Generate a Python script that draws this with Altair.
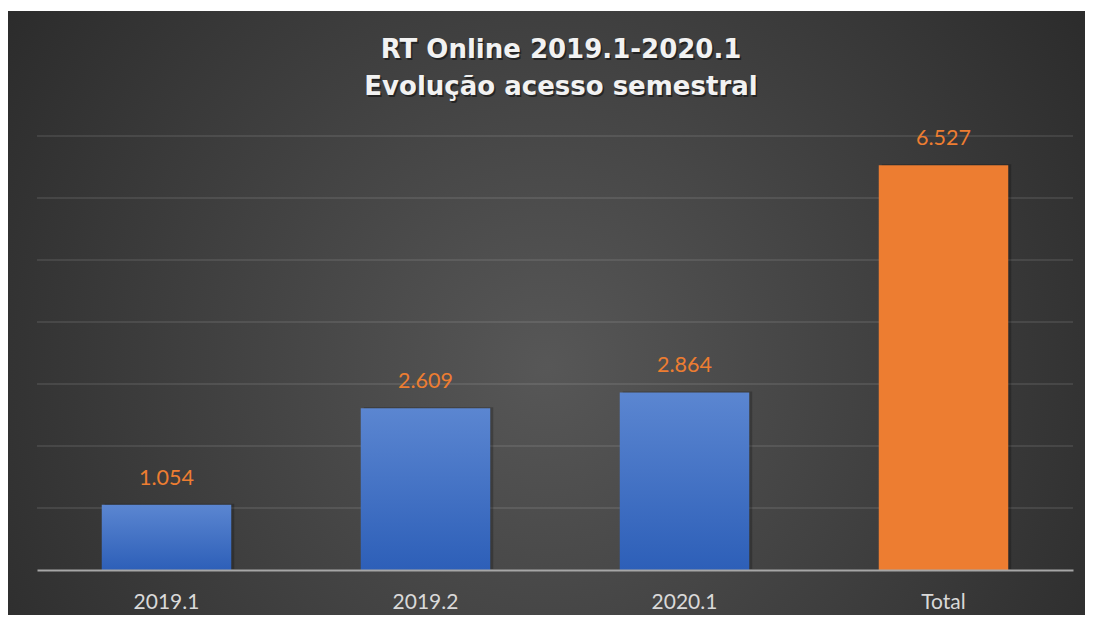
import altair as alt
import pandas as pd

categories = ["2019.1", "2019.2", "2020.1", "Total"]
values = [1054, 2609, 2864, 6527]
grid_values = [1000, 2000, 3000, 4000, 5000, 6000, 7000]
title_lines = ["RT Online 2019.1-2020.1", "Evolução acesso semestral"]

df = pd.DataFrame({"cat": categories, "val": values})
df["label"] = [f"{v:,}".replace(",", ".") for v in values]
grid_df = pd.DataFrame({"g": grid_values})
one = pd.DataFrame({"a": [0]})

W, H = 1036, 434
PAD = {"left": 29, "top": 128, "right": 12, "bottom": 45}

bg_gradient = {
    "gradient": "radial",
    "x1": 0.5, "y1": 0.55, "x2": 0.5, "y2": 0.55,
    "r1": 0, "r2": 0.72,
    "stops": [
        {"offset": 0, "color": "#575757"},
        {"offset": 1, "color": "#232323"},
    ],
}
blue_gradient = {
    "gradient": "linear",
    "x1": 0, "y1": 0, "x2": 0, "y2": 1,
    "stops": [
        {"offset": 0, "color": "#5B86D1"},
        {"offset": 1, "color": "#2D5FB8"},
    ],
}

yscale = alt.Scale(domain=[0, 7000], nice=False, zero=True)
xenc = alt.X(
    "cat:N",
    sort=categories,
    scale=alt.Scale(paddingInner=0.5, paddingOuter=0.25),
    axis=alt.Axis(
        title=None, labelAngle=0, ticks=False, domainColor="#A6A6A6",
        domainWidth=2, labelColor="#D9D9D9", labelFont="Lato",
        labelFontSize=21, labelPadding=21, zindex=1,
    ),
)
yenc = alt.Y("val:Q", scale=yscale, axis=None)

background = alt.Chart(one).mark_rect(fill=bg_gradient).encode(
    x=alt.value(-29), x2=alt.value(W + 12),
    y=alt.value(-125), y2=alt.value(H + 45),
)

grid = alt.Chart(grid_df).mark_rule(color="#ffffff", opacity=0.09, strokeWidth=2).encode(
    y=alt.Y("g:Q", scale=yscale, axis=None),
    x=alt.value(0), x2=alt.value(W),
)

base = alt.Chart(df)
shadow = base.mark_bar(color="#000000", opacity=0.22, xOffset=3, yOffset=-1).encode(x=xenc, y=yenc)
bars_blue = base.transform_filter(alt.datum.cat != "Total").mark_bar(fill=blue_gradient).encode(x=xenc, y=yenc)
bars_total = base.transform_filter(alt.datum.cat == "Total").mark_bar(color="#ED7D31").encode(x=xenc, y=yenc)
labels = base.mark_text(
    color="#ED7D31", font="Lato", fontSize=21.5, baseline="middle", dy=-26
).encode(x=xenc, y=yenc, text="label:N")

title_layers = []
for i, (line, ty) in enumerate(zip(title_lines, [-86, -49])):
    title_layers.append(
        alt.Chart(one).mark_text(
            text=line, font="DejaVu Sans", fontWeight="bold", fontSize=26,
            color="#000000", opacity=0.45, align="center", baseline="middle",
        ).encode(x=alt.value(525.5), y=alt.value(ty + 1.5))
    )
    title_layers.append(
        alt.Chart(one).mark_text(
            text=line, font="DejaVu Sans", fontWeight="bold", fontSize=26,
            color="#F2F2F2", align="center", baseline="middle",
        ).encode(x=alt.value(524), y=alt.value(ty))
    )

chart = alt.layer(
    background, grid, shadow, bars_blue, bars_total, labels, *title_layers
).properties(
    width=W, height=H,
    autosize=alt.AutoSizeParams(type="none"),
    padding=PAD,
    background="white",
).configure_view(stroke=None)

chart.save("out.html", embed_options={"renderer": "svg", "actions": False})
